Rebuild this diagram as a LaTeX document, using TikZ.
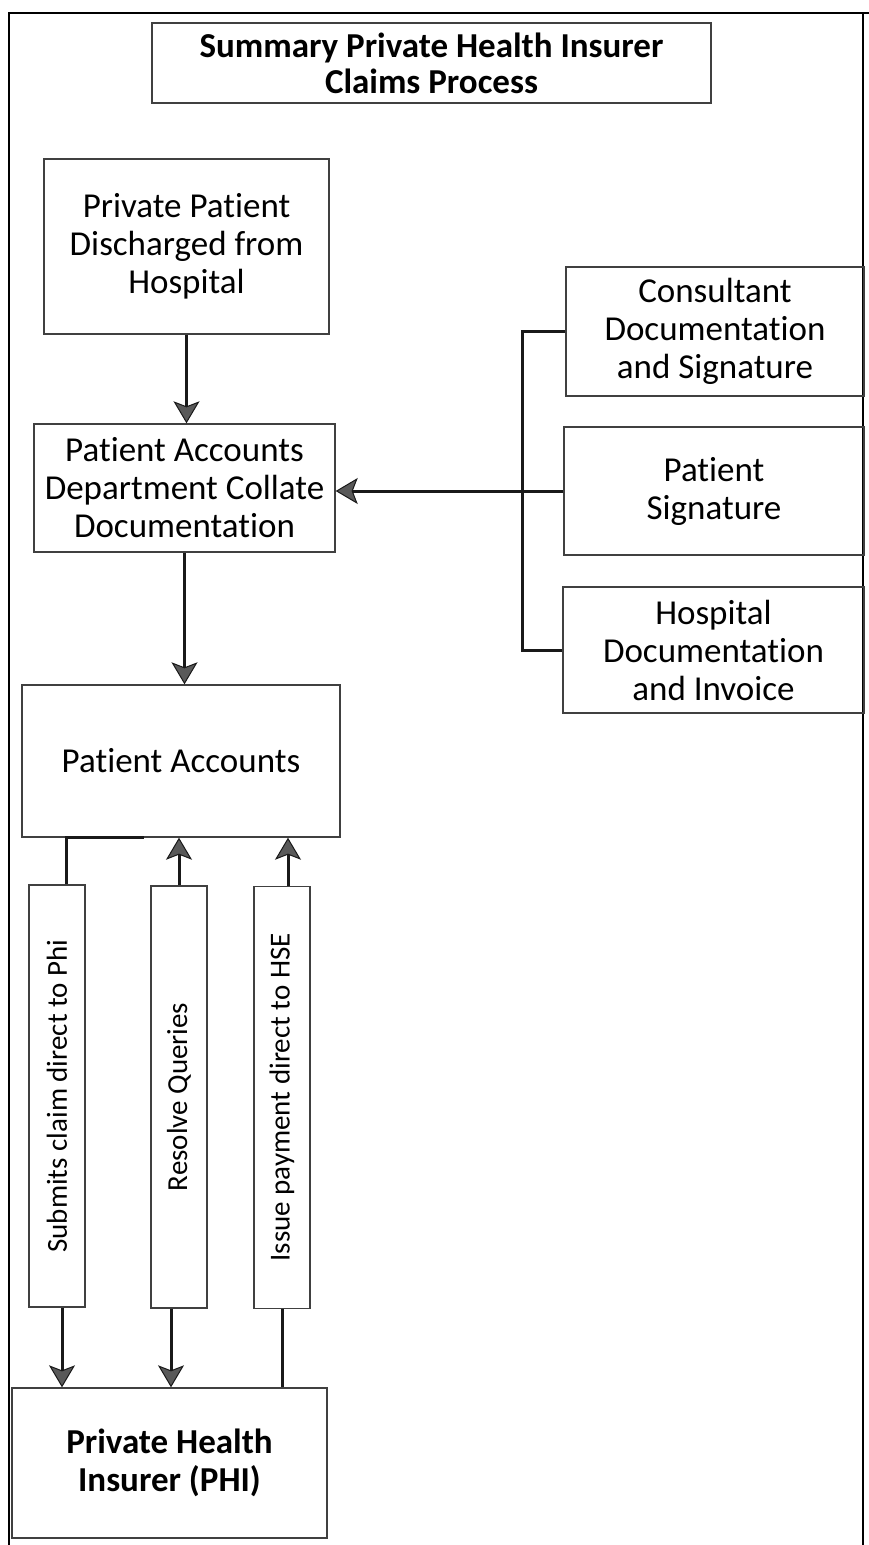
\documentclass[tikz,border=0pt]{standalone}
\usepackage{fontspec}
\setmainfont{Carlito}[Ligatures=NoCommon]
\usepackage{graphicx}
\usetikzlibrary{arrows.meta}
\tikzset{
	box/.style={draw=black!75, line width=1.4pt, align=center, inner sep=0pt, font=\fontsize{35}{38}\selectfont},
	headbox/.style={box, font=\fontsize{35}{36}\selectfont\bfseries},
	sidebox/.style={box, minimum width=56pt, minimum height=422pt, font=\fontsize{29}{30}\selectfont},
	link/.style={line width=3pt, draw=black!90},
	arr/.style={link, -{Stealth[length=22pt, width=26pt, inset=5pt, line width=1pt, fill=black!65]}},
}

\begin{document}
\begin{tikzpicture}[x=1pt, y=-1pt]
		%%%%% START %%%%%
		\useasboundingbox (0,0) rectangle (869,1545);
		
		\draw[line width=2.2pt] (9,1545) -- (9,13) -- (869,13);
		\draw[line width=1.5pt] (863,13) -- (863,1545);
		
		\node[headbox, minimum width=559pt, minimum height=80pt] (title) at (431.5,63) {Summary Private Health Insurer\\Claims Process};
		
		\node[box, minimum width=285pt, minimum height=175pt] (discharge) at (186.5,246.5) {Private Patient\\Discharged from\\Hospital};
		\node[box, minimum width=301pt, minimum height=128pt] (collate) at (184.5,488) {Patient Accounts\\Department Collate\\Documentation};
		\node[box, minimum width=318pt, minimum height=152pt] (accounts) at (181,761) {Patient Accounts};
		
		\node[box, minimum width=298pt, minimum height=129pt] (consult) at (715,331.5) {Consultant\\Documentation\\and Signature};
		\node[box, minimum width=300pt, minimum height=128pt] (patsig) at (714,491) {Patient\\Signature};
		\node[box, minimum width=301pt, minimum height=126pt] (hospdoc) at (713.5,650) {Hospital\\Documentation\\and Invoice};
		
		\node[sidebox] (submits) at (57,1096) {\rotatebox{90}{Submits claim direct to Phi}};
		\node[sidebox] (resolve) at (179,1097) {\rotatebox{90}{Resolve Queries}};
		\node[sidebox] (issue) at (282,1097.5) {\rotatebox{90}{Issue payment direct to HSE}};
		
		\node[box, minimum width=315pt, minimum height=150pt, font=\fontsize{35}{38}\selectfont\bfseries] (phi) at (169.5,1463) {Private Health\\Insurer (PHI)};
		
		\draw[arr] (discharge.south) -- (discharge.south |- collate.north);
		\draw[arr] (collate.south) -- (collate.south |- accounts.north);
		
		\draw[link] (consult.west) -- ++(-43,0) |- (hospdoc.west);
		\draw[arr] (patsig.west) -- (patsig.west -| collate.east);
		
		\draw[link] ([xshift=9pt]submits.north) |- ([xshift=-37pt]accounts.south);
		\draw[arr] (resolve.north) -- (resolve.north |- accounts.south);
		\draw[arr] ([xshift=6pt]issue.north) -- ([xshift=6pt]issue.north |- accounts.south);
		
		\draw[arr] ([xshift=5pt]submits.south) -- ([xshift=5pt]submits.south |- phi.north);
		\draw[arr] ([xshift=-8pt]resolve.south) -- ([xshift=-8pt]resolve.south |- phi.north);
		\draw[link] (issue.south) -- (issue.south |- phi.north);
		
		%%%%% END %%%%%
	\end{tikzpicture}
\end{document}
